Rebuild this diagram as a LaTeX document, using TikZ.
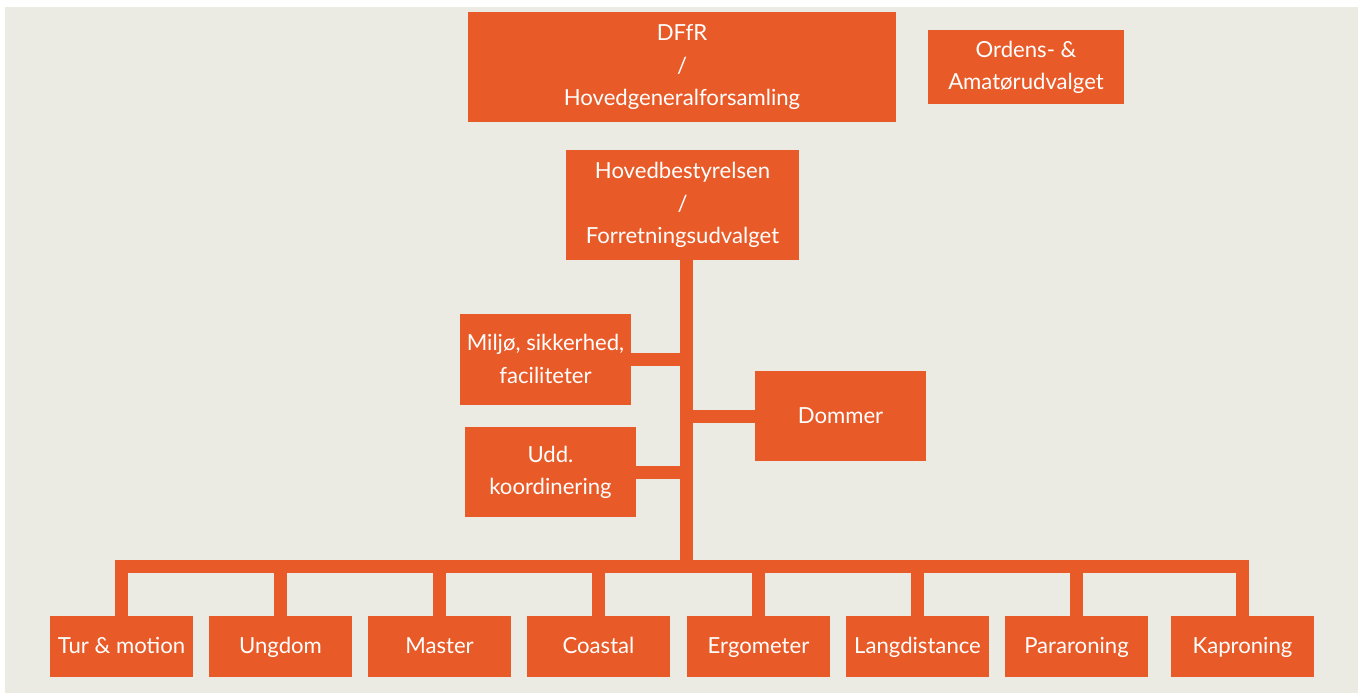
\documentclass[tikz,border=0pt]{standalone}
\usepackage{fontspec}
\setmainfont{Lato}
\usepackage{tikz}
\usetikzlibrary{positioning}
\definecolor{dfforange}{RGB}{232,91,40}
\definecolor{dffbg}{RGB}{235,234,227}
\tikzstyle{unit} = [rectangle, 
inner sep=0pt, 
align=center, 
text=white, 
fill=dfforange, 
font=\fontsize{12.6}{18.3}\selectfont]
\tikzstyle{single} = [unit, 
text height=1.8ex, 
text depth=0.2ex]
\tikzstyle{club} = [single, 
minimum width=143*0.02cm, 
minimum height=61*0.02cm]
\tikzstyle{conn} = [draw=dfforange, line width=7.4pt, line join=miter]

\begin{document}
\begin{tikzpicture}[x=0.02cm, y=-0.02cm]

    \useasboundingbox (0,0) rectangle (1363,693);
    \fill[dffbg] (5,7) rectangle (1358,693);

    \node (dffr) [unit, minimum width=428*0.02cm, minimum height=110*0.02cm] at (682,67) {DFfR\\/\\Hovedgeneralforsamling};
    \node (ordens) [unit, minimum width=196*0.02cm, minimum height=74*0.02cm] at (1026,67) {Ordens- \&\\Amatørudvalget};
    \node (hb) [unit, minimum width=233*0.02cm, minimum height=110*0.02cm] at (682.5,205) {Hovedbestyrelsen\\/\\Forretningsudvalget};

    \node (miljo) [unit, minimum width=171*0.02cm, minimum height=91*0.02cm] at (545.5,359) {Miljø, sikkerhed,\\faciliteter};
    \node (dommer) [single, minimum width=171*0.02cm, minimum height=90*0.02cm] at (840.5,416) {Dommer};
    \node (udd) [unit, minimum width=171*0.02cm, minimum height=90*0.02cm] at (550.5,472) {Udd.\\koordinering};

    \node (tur) [club] at (121.5,646.5) {Tur \& motion};
    \node (ungdom) [club] at (280.5,646.5) {Ungdom};
    \node (master) [club] at (439.5,646.5) {Master};
    \node (coastal) [club] at (598.5,646.5) {Coastal};
    \node (ergo) [club] at (758.5,646.5) {Ergometer};
    \node (lang) [club] at (917.5,646.5) {Langdistance};
    \node (para) [club] at (1076.5,646.5) {Pararoning};
    \node (kap) [club] at (1242.5,646.5) {Kaproning};

    \coordinate (junction) at (686,566);

    \draw [conn] (hb.south -| junction) -- (junction);
    \draw [conn] (miljo.east) -- (miljo.east -| junction);
    \draw [conn] (dommer.west) -- (dommer.west -| junction);
    \draw [conn] (udd.east) -- (udd.east -| junction);
    \draw [conn] (tur.north) |- (junction) -| (kap.north);
    \foreach \n in {ungdom, master, coastal, ergo, lang, para}
        \draw [conn] (\n.north) -- (\n.north |- junction);

\end{tikzpicture}
\end{document}
